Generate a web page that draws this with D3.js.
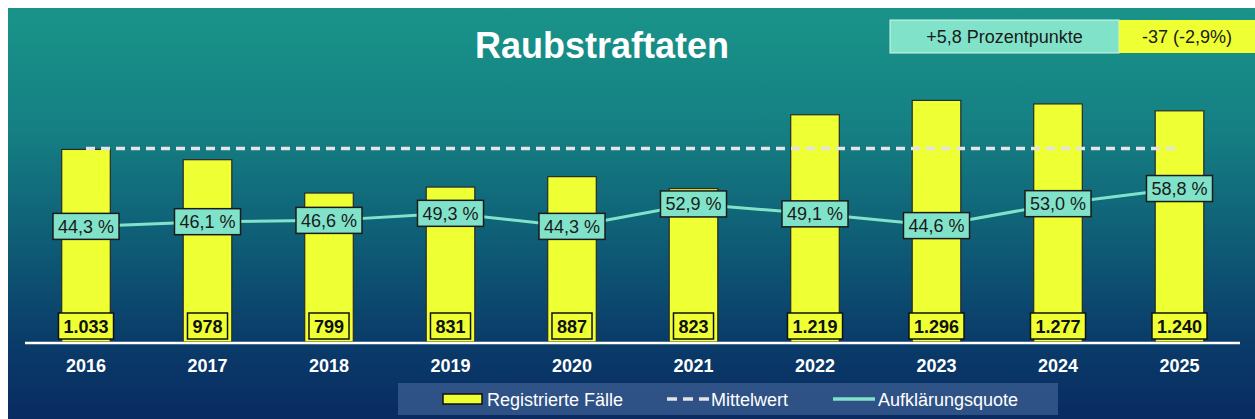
<!DOCTYPE html>
<html>
<head>
<meta charset="utf-8">
<script src="https://cdn.jsdelivr.net/npm/d3@7"></script>
<style>
  html, body { margin: 0; padding: 0; background: #ffffff; }
  svg { display: block; font-family: "Liberation Sans", Arial, sans-serif; }
</style>
</head>
<body>
<svg id="chart" width="1255" height="419"></svg>
<script>
// ---- Data ----
const title = "Raubstraftaten";
const years = ["2016", "2017", "2018", "2019", "2020", "2021", "2022", "2023", "2024", "2025"];
const cases = [1033, 978, 799, 831, 887, 823, 1219, 1296, 1277, 1240];
const quota = [44.3, 46.1, 46.6, 49.3, 44.3, 52.9, 49.1, 44.6, 53.0, 58.8];
const caseLabels = ["1.033", "978", "799", "831", "887", "823", "1.219", "1.296", "1.277", "1.240"];
const quotaLabels = ["44,3 %", "46,1 %", "46,6 %", "49,3 %", "44,3 %", "52,9 %", "49,1 %", "44,6 %", "53,0 %", "58,8 %"];
const legendLabels = ["Registrierte Fälle", "Mittelwert", "Aufklärungsquote"];
const summaryQuota = "+5,8 Prozentpunkte";
const summaryCases = "-37 (-2,9%)";

// ---- Styles ----
const W = 1255, H = 419;
const YELLOW = "#eeff33";
const AQUA = "#80e3c9";
const DARK = "#1a1a1a";

const svg = d3.select("#chart");

// background gradient
const defs = svg.append("defs");
const grad = defs.append("linearGradient").attr("id", "bg").attr("x1", 0).attr("y1", 0).attr("x2", 0).attr("y2", 1);
[[0, "#199489"], [0.3, "#157f83"], [0.58, "#0e5b75"], [0.8, "#0a3d6a"], [1, "#092b62"]]
  .forEach(([o, c]) => grad.append("stop").attr("offset", o).attr("stop-color", c));
svg.append("rect").attr("x", 8).attr("y", 8).attr("width", W - 8).attr("height", H - 8).attr("fill", "url(#bg)");

// scales
const x = d3.scaleBand().domain(years).range([25.25, 1240.25]).paddingInner(0.6).paddingOuter(0.3);
const baseY = 342;
const yCases = d3.scaleLinear().domain([0, 1400]).range([baseY, 81]);
const yPct = d3.scaleLinear().domain([0, 100]).range([baseY, 81]);
const cx = d => x(d) + x.bandwidth() / 2;

// title
svg.append("text").attr("x", 602).attr("y", 58).attr("text-anchor", "middle")
  .attr("fill", "#ffffff").attr("font-weight", "bold").attr("font-size", 36).text(title);

// summary boxes
svg.append("rect").attr("x", 890).attr("y", 20).attr("width", 229).attr("height", 33)
  .attr("fill", AQUA).attr("stroke", "#d8f5ee").attr("stroke-width", 1);
svg.append("rect").attr("x", 1119).attr("y", 20).attr("width", 140).attr("height", 33)
  .attr("fill", YELLOW);
svg.append("text").attr("x", 1004.5).attr("y", 43).attr("text-anchor", "middle")
  .attr("font-size", 18).attr("fill", DARK).text(summaryQuota);
svg.append("text").attr("x", 1187).attr("y", 43).attr("text-anchor", "middle")
  .attr("font-size", 18).attr("fill", DARK).text(summaryCases);

// bars
svg.append("g").selectAll("rect").data(years).join("rect")
  .attr("x", d => x(d)).attr("width", x.bandwidth())
  .attr("y", (d, i) => yCases(cases[i])).attr("height", (d, i) => baseY - yCases(cases[i]))
  .attr("fill", YELLOW).attr("stroke", "#2a2a2a").attr("stroke-width", 1.2);

// baseline
svg.append("line").attr("x1", 25).attr("x2", 1240).attr("y1", 343).attr("y2", 343)
  .attr("stroke", "#ffffff").attr("stroke-width", 2.5);

// mean line
const mean = d3.mean(cases);
svg.append("line").attr("x1", cx(years[0])).attr("x2", cx(years[years.length - 1]))
  .attr("y1", yCases(mean)).attr("y2", yCases(mean))
  .attr("stroke", "#e4e4e4").attr("stroke-width", 3.5).attr("stroke-dasharray", "9,6");

// quota line
const line = d3.line().x((d, i) => cx(years[i])).y(d => yPct(d));
svg.append("path").datum(quota).attr("d", line).attr("fill", "none")
  .attr("stroke", AQUA).attr("stroke-width", 3);

// quota labels
const ql = svg.append("g").selectAll("g").data(quota).join("g")
  .attr("transform", (d, i) => `translate(${cx(years[i])},${yPct(d)})`);
ql.each(function (d, i) {
  const g = d3.select(this);
  const r = g.append("rect");
  const t = g.append("text").attr("text-anchor", "middle").attr("y", 6.5)
    .attr("font-size", 18).attr("fill", DARK).text(quotaLabels[i]);
  const w = t.node().getComputedTextLength() + 10;
  r.attr("x", -w / 2).attr("y", -13).attr("width", w).attr("height", 26)
    .attr("fill", AQUA).attr("stroke", DARK).attr("stroke-width", 1.5);
});

// case value labels
const cl = svg.append("g").selectAll("g").data(years).join("g")
  .attr("transform", d => `translate(${cx(d)},326)`);
cl.each(function (d, i) {
  const g = d3.select(this);
  const r = g.append("rect");
  const t = g.append("text").attr("text-anchor", "middle").attr("y", 6.5)
    .attr("font-size", 18).attr("font-weight", "bold").attr("fill", "#111").text(caseLabels[i]);
  const w = t.node().getComputedTextLength() + 10;
  r.attr("x", -w / 2).attr("y", -13).attr("width", w).attr("height", 26)
    .attr("fill", YELLOW).attr("stroke", "#111").attr("stroke-width", 1.5);
});

// x axis labels
const xAxis = d3.axisBottom(x).tickSize(0).tickPadding(0);
const ax = svg.append("g").attr("transform", "translate(0,359)").call(xAxis);
ax.select(".domain").remove();
ax.selectAll("text").attr("fill", "#ffffff").attr("font-size", 18).attr("font-weight", "bold")
  .attr("font-family", "Liberation Sans, Arial, sans-serif").attr("dy", "0.72em");

// legend
const lg = svg.append("g");
lg.append("rect").attr("x", 398).attr("y", 383).attr("width", 660).attr("height", 32)
  .attr("fill", "#33578a").attr("opacity", 0.9);
const ly = 399;
lg.append("rect").attr("x", 443).attr("y", 394).attr("width", 39).attr("height", 10)
  .attr("fill", YELLOW).attr("stroke", "#111").attr("stroke-width", 1.5);
lg.append("text").attr("x", 487).attr("y", ly + 6.5).attr("font-size", 18).attr("fill", "#fff").text(legendLabels[0]);
lg.append("line").attr("x1", 667).attr("x2", 709).attr("y1", ly).attr("y2", ly)
  .attr("stroke", "#e4e4e4").attr("stroke-width", 3.5).attr("stroke-dasharray", "10,6");
lg.append("text").attr("x", 711).attr("y", ly + 6.5).attr("font-size", 18).attr("fill", "#fff").text(legendLabels[1]);
lg.append("line").attr("x1", 833).attr("x2", 875).attr("y1", ly).attr("y2", ly)
  .attr("stroke", AQUA).attr("stroke-width", 3.5);
lg.append("text").attr("x", 878).attr("y", ly + 6.5).attr("font-size", 18).attr("fill", "#fff").text(legendLabels[2]);
</script>
</body>
</html>
